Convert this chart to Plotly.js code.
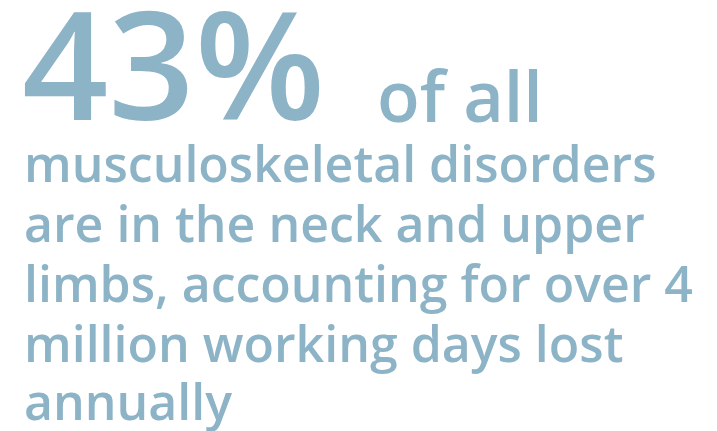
<!DOCTYPE html>
<html>
<head>
<meta charset="utf-8">
<script src="https://cdn.plot.ly/plotly-3.0.1.min.js"></script>
<style>html,body{margin:0;padding:0;background:#fff}#chart{width:717px;height:431px}</style>
</head>
<body>
<div id="chart"></div>
<script>
const headlineValue = [43];
const headlineUnit = ["%"];
const headlineTail = ["of all"];
const bodyLines = [
  "musculoskeletal disorders",
  "are in the neck and upper",
  "limbs, accounting for over 4",
  "million working days lost",
  "annually"
];

const W = 717, H = 431;
const color = "#8db3c7";
const fontFam = "'Open Sans', sans-serif";
const K = 0.388; // baseline offset from box centre, in em
const py = p => 1 - p / H;
const px = p => p / W;

const annotations = [];
annotations.push({
  x: px(20), y: py(120 - K * 151), xref: "paper", yref: "paper", xanchor: "left", yanchor: "middle",
  text: headlineValue[0] + headlineUnit[0], showarrow: false,
  font: {family: fontFam, size: 151, color: color, weight: 600}
});
annotations.push({
  x: px(375), y: py(122 - K * 70), xref: "paper", yref: "paper", xanchor: "left", yanchor: "middle",
  text: headlineTail[0], showarrow: false,
  font: {family: fontFam, size: 70, color: color, weight: 600}
});
const baselines = [182, 242, 302, 362, 420];
bodyLines.forEach((t, i) => {
  annotations.push({
    x: px(22), y: py(baselines[i] - K * 50), xref: "paper", yref: "paper", xanchor: "left", yanchor: "middle",
    text: t, showarrow: false,
    font: {family: fontFam, size: 50, color: color, weight: 600}
  });
});

Plotly.newPlot("chart", [], {
  width: W, height: H,
  margin: {l: 0, r: 0, t: 0, b: 0},
  paper_bgcolor: "#ffffff", plot_bgcolor: "#ffffff",
  xaxis: {visible: false, range: [0, 1]},
  yaxis: {visible: false, range: [0, 1]},
  annotations: annotations,
  showlegend: false
}, {staticPlot: true, displayModeBar: false});
</script>
</body>
</html>
